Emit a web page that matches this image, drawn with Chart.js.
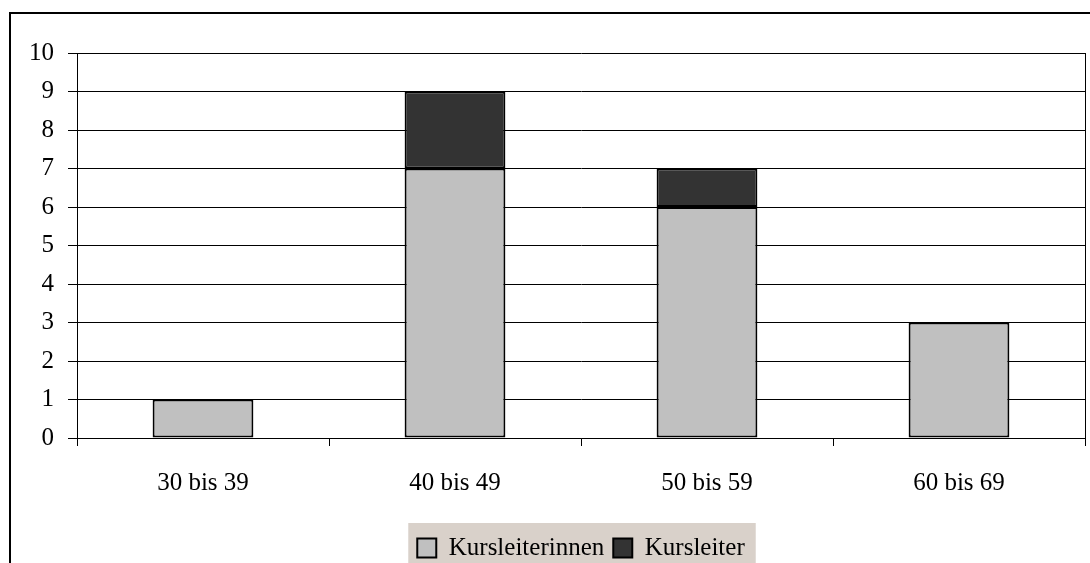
<!DOCTYPE html>
<html>
<head>
<meta charset="utf-8">
<script src="https://cdn.jsdelivr.net/npm/chart.js@4/dist/chart.umd.min.js"></script>
<style>
  html, body { margin: 0; padding: 0; background: #fff; overflow: hidden; }
  #wrap { width: 1090px; height: 563px; overflow: hidden; }
  canvas { display: block; }
</style>
</head>
<body>
<div id="wrap"><canvas id="chart" width="1090" height="600"></canvas></div>
<script>
// Altersgruppen der Kursleitenden
const categories = ['30 bis 39', '40 bis 49', '50 bis 59', '60 bis 69'];
const kursleiterinnen = [1, 7, 6, 3];
const kursleiter = [0, 2, 1, 0];
const yTicks = [0, 1, 2, 3, 4, 5, 6, 7, 8, 9, 10];

const serif = 'Liberation Serif, "Times New Roman", serif';

// Frame around the chart and shaded legend panel
const framePlugin = {
  id: 'frame',
  beforeDraw(chart) {
    const ctx = chart.ctx;
    ctx.save();
    ctx.fillStyle = '#000';
    ctx.fillRect(9, 12, chart.width, 2);
    ctx.fillRect(9, 12, 2, chart.height);
    const hb = chart.legend && chart.legend.legendHitBoxes;
    if (hb && hb.length) {
      const first = hb[0];
      const last = hb[hb.length - 1];
      const left = first.left - 9;
      const right = last.left + last.width + 11;
      const top = first.top - 12.5;
      ctx.fillStyle = '#d9d1ca';
      ctx.fillRect(left, top, right - left, chart.height - top);
    }
    ctx.restore();
  },
  afterDatasetsDraw(chart) {
    // right edge of the plot area
    const a = chart.chartArea;
    const ctx = chart.ctx;
    ctx.save();
    ctx.strokeStyle = '#000';
    ctx.lineWidth = 1;
    ctx.beginPath();
    ctx.moveTo(Math.round(a.right) + 0.5, a.top);
    ctx.lineTo(Math.round(a.right) + 0.5, a.bottom);
    ctx.stroke();
    ctx.restore();
  }
};

new Chart(document.getElementById('chart'), {
  type: 'bar',
  data: {
    labels: categories,
    datasets: [
      {
        label: 'Kursleiterinnen',
        data: kursleiterinnen,
        backgroundColor: '#c0c0c0',
        borderColor: '#000',
        borderWidth: 2,
        borderSkipped: false
      },
      {
        label: 'Kursleiter',
        data: kursleiter,
        backgroundColor: '#333333',
        borderColor: '#000',
        borderWidth: 2,
        borderSkipped: false
      }
    ]
  },
  options: {
    responsive: false,
    animation: false,
    events: [],
    layout: { padding: { top: 53, left: 20, right: 5, bottom: 29.5 } },
    datasets: { bar: { categoryPercentage: 1, barPercentage: 0.4 } },
    scales: {
      x: {
        stacked: true,
        offset: true,
        grid: {
          offset: true,
          drawOnChartArea: false,
          drawTicks: true,
          tickLength: 8,
          tickColor: '#000',
          color: '#000'
        },
        border: { display: true, color: '#000', width: 1 },
        ticks: {
          color: '#000',
          font: { family: serif, size: 25 },
          padding: 22,
          maxRotation: 0
        },
        afterFit(scale) { scale.height = 88.5; }
      },
      y: {
        stacked: true,
        min: 0,
        max: 10,
        afterBuildTicks(scale) { scale.ticks = yTicks.map(v => ({ value: v })); },
        grid: {
          color: '#000',
          lineWidth: 1,
          drawTicks: true,
          tickLength: 9,
          tickColor: '#000'
        },
        border: { display: true, color: '#000', width: 1 },
        ticks: {
          color: '#000',
          font: { family: serif, size: 25 },
          padding: 14
        },
        afterFit(scale) { scale.width = 57; }
      }
    },
    plugins: {
      legend: {
        position: 'bottom',
        fullSize: false,
        labels: {
          color: '#000',
          font: { family: serif, size: 25 },
          boxWidth: 19,
          boxHeight: 19,
          padding: 9
        }
      },
      tooltip: { enabled: false },
      title: { display: false }
    }
  },
  plugins: [framePlugin]
});
</script>
</body>
</html>
